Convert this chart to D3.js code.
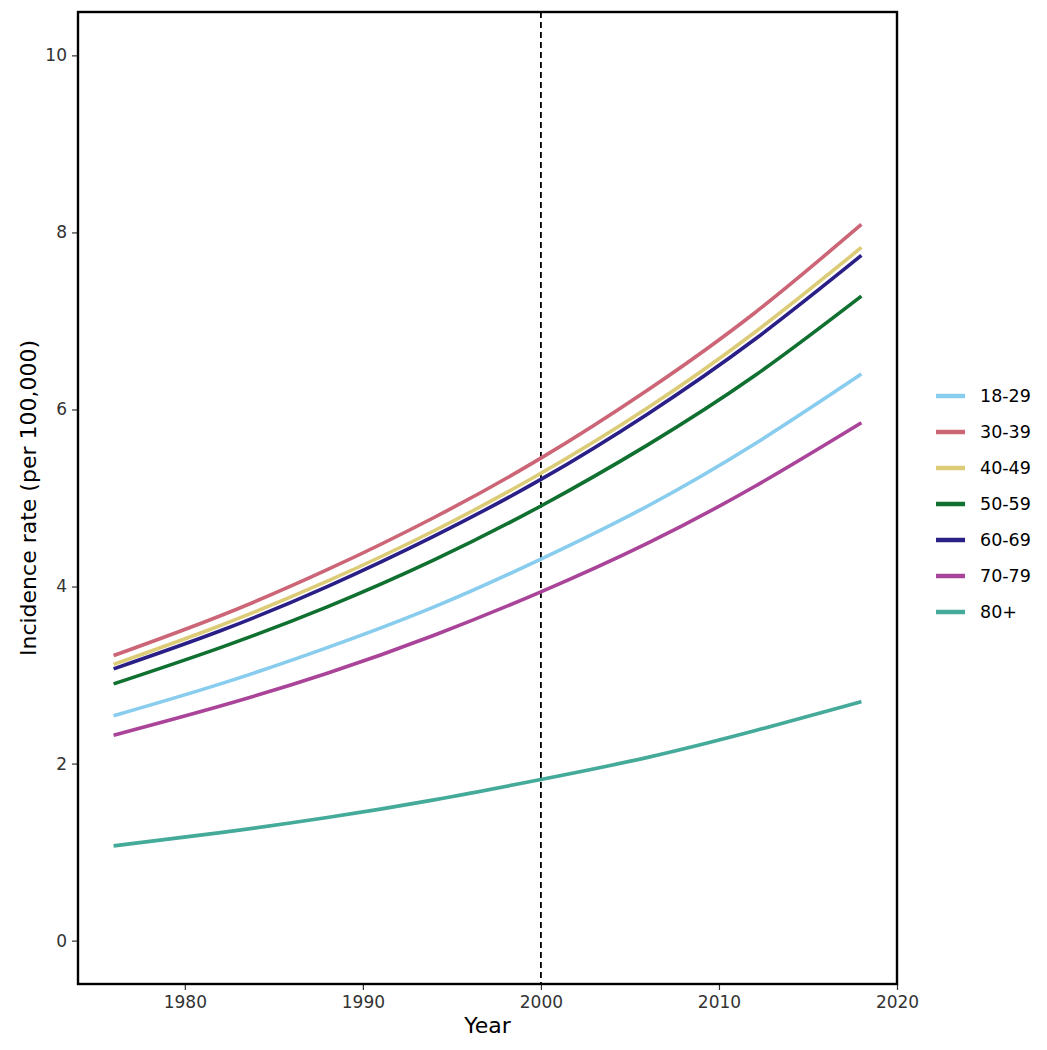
<!DOCTYPE html>
<html><head><meta charset="utf-8">
<script src="https://cdn.jsdelivr.net/npm/d3@7"></script>
<style>body{margin:0;background:#fff;} text{font-family:"DejaVu Sans",sans-serif;}</style>
</head><body>
<svg id="chart" width="1047" height="1050"></svg>
<script>
const years = [1976, 1982, 1988, 1994, 2000, 2006, 2012, 2018];
const groups = ["18-29", "30-39", "40-49", "50-59", "60-69", "70-79", "80+"];
const colors = ["#88CCEE", "#CC6677", "#DDCC77", "#0F7030", "#2A1F86", "#AA4499", "#44AA99"];
const v18_29 = [2.54, 2.90, 3.31, 3.77, 4.31, 4.91, 5.61, 6.40];
const v30_39 = [3.22, 3.67, 4.19, 4.78, 5.45, 6.22, 7.09, 8.09];
const v40_49 = [3.12, 3.56, 4.06, 4.63, 5.28, 6.02, 6.87, 7.83];
const v50_59 = [2.90, 3.31, 3.77, 4.30, 4.91, 5.60, 6.38, 7.28];
const v60_69 = [3.07, 3.50, 4.00, 4.57, 5.21, 5.95, 6.79, 7.74];
const v70_79 = [2.32, 2.65, 3.02, 3.45, 3.94, 4.49, 5.13, 5.85];
const v80p   = [1.07, 1.22, 1.39, 1.59, 1.82, 2.07, 2.37, 2.70];
const seriesValues = [v18_29, v30_39, v40_49, v50_59, v60_69, v70_79, v80p];
const xTicks = [1980, 1990, 2000, 2010, 2020];
const yTicks = [0, 2, 4, 6, 8, 10];
const refYear = 2000;

const svg = d3.select("#chart");
const L = 78, R = 897, T = 12, B = 984;
const x = d3.scaleLinear().domain([1974, 2020]).range([L, R]);
const y = d3.scaleLinear().domain([-0.49, 10.49]).range([B, T]);

// axes
const gx = svg.append("g").attr("transform", `translate(0,${B})`)
  .call(d3.axisBottom(x).tickValues(xTicks).tickFormat(d3.format("d")).tickSize(6).tickPadding(6));
const gy = svg.append("g").attr("transform", `translate(${L},0)`)
  .call(d3.axisLeft(y).tickValues(yTicks).tickSize(6).tickPadding(5));
[gx, gy].forEach(g => {
  g.select(".domain").remove();
  g.selectAll(".tick line").attr("stroke", "#333").attr("stroke-width", 1.2);
  g.selectAll(".tick text").attr("fill", "#333").style("font-size", "17px").style("font-family", "DejaVu Sans");
});

// dashed reference line
svg.append("line").attr("x1", x(refYear)).attr("x2", x(refYear)).attr("y1", T).attr("y2", B)
  .attr("stroke", "#000").attr("stroke-width", 1.8).attr("stroke-dasharray", "6,4");

// lines
const line = d3.line().x((d, i) => x(years[i])).y(d => y(d)).curve(d3.curveNatural);
seriesValues.forEach((vals, k) => {
  svg.append("path").datum(vals).attr("d", line).attr("fill", "none")
    .attr("stroke", colors[k]).attr("stroke-width", 3.6);
});

// frame
svg.append("rect").attr("x", L).attr("y", T).attr("width", R - L).attr("height", B - T)
  .attr("fill", "none").attr("stroke", "#000").attr("stroke-width", 2.4);

// titles
svg.append("text").attr("x", (L + R) / 2).attr("y", 1033).attr("text-anchor", "middle")
  .style("font-size", "22px").attr("fill", "#000").text("Year");
svg.append("text").attr("transform", `translate(36,${(T + B) / 2}) rotate(-90)`).attr("text-anchor", "middle")
  .style("font-size", "22px").attr("fill", "#000").text("Incidence rate (per 100,000)");

// legend
const lg = svg.append("g");
groups.forEach((g, i) => {
  const yy = 396 + i * 36;
  lg.append("line").attr("x1", 936).attr("x2", 965).attr("y1", yy).attr("y2", yy)
    .attr("stroke", colors[i]).attr("stroke-width", 4.5);
  lg.append("text").attr("x", 980).attr("y", yy).attr("dy", "0.35em")
    .style("font-size", "17.5px").attr("fill", "#000").text(g);
});
</script>
</body></html>
